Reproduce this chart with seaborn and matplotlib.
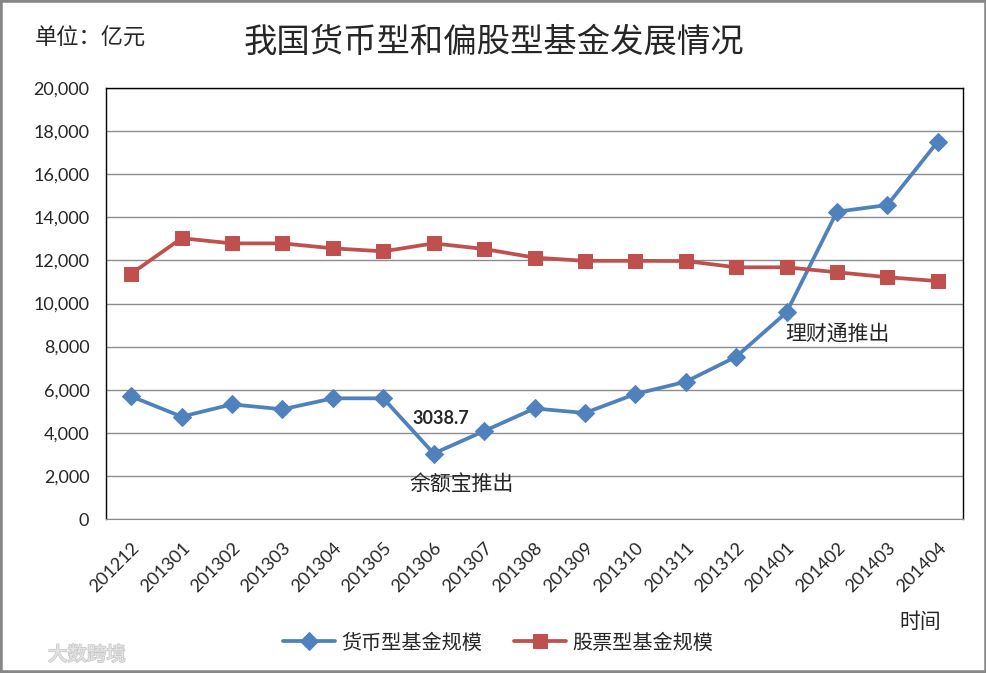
import pandas as pd
import seaborn as sns
import matplotlib.pyplot as plt
from matplotlib.patches import Rectangle
from matplotlib.ticker import FuncFormatter
import matplotlib.patheffects as pe

# data (unit: 亿元)
months = ['201212', '201301', '201302', '201303', '201304', '201305', '201306',
          '201307', '201308', '201309', '201310', '201311', '201312', '201401',
          '201402', '201403', '201404']
money_fund = [5690, 4750, 5320, 5090, 5600, 5600, 3038.7, 4080, 5130, 4920,
              5800, 6370, 7530, 9590, 14260, 14570, 17510]
stock_fund = [11380, 13030, 12790, 12790, 12560, 12420, 12790, 12530, 12130,
              11980, 11980, 11970, 11680, 11680, 11450, 11220, 11040]
series_names = ['货币型基金规模', '股票型基金规模']

sns.set_style('white')
plt.rcParams['font.family'] = ['Noto Sans CJK SC', 'DejaVu Sans']

blue = '#4F81BD'
red = '#C0504D'

df = pd.DataFrame({'month': months, 'money': money_fund, 'stock': stock_fund})

fig = plt.figure(figsize=(9.87, 6.73), dpi=100)
ax = fig.add_axes([106 / 987, 1 - 519 / 673, (963 - 106) / 987, (519 - 88) / 673])

sns.lineplot(data=df, x='month', y='money', ax=ax, color=blue, linewidth=2.7,
             marker='D', markersize=9, markeredgecolor=blue, label=series_names[0])
sns.lineplot(data=df, x='month', y='stock', ax=ax, color=red, linewidth=2.7,
             marker='s', markersize=10.5, markeredgecolor=red, label=series_names[1])

ax.set_xlim(-0.5, len(months) - 0.5)
ax.set_ylim(0, 20000)
ax.set_yticks(range(0, 20001, 2000))
ax.yaxis.set_major_formatter(FuncFormatter(lambda v, p: f'{int(v):,}'))
ax.grid(axis='y', color='#8c8c8c', linewidth=1.0)
ax.grid(axis='x', visible=False)
ax.set_axisbelow(True)
for side in ['left', 'top', 'right']:
    ax.spines[side].set_color('black')
    ax.spines[side].set_linewidth(1.0)
ax.spines['bottom'].set_color('#8c8c8c')
ax.set_xlabel('')
ax.set_ylabel('')
ax.tick_params(axis='y', length=0, pad=12)

for lbl in ax.get_yticklabels():
    lbl.set_family('Lato')
    lbl.set_fontsize(13)
ax.set_xticks(range(len(months)))
ax.set_xticklabels(months, rotation=45, ha='right', va='top',
                   rotation_mode='anchor', family='Lato', fontsize=13)
ax.tick_params(axis='x', length=0, pad=15)

# annotations
ax.text(6.15, 4650, '3038.7', fontsize=13, fontweight='bold', family='Lato',
        ha='center', va='center')
ax.text(6.55, 1580, '余额宝推出', fontsize=15, ha='center', va='center')
ax.text(14.0, 8600, '理财通推出', fontsize=15, ha='center', va='center')

leg = ax.legend(loc='center', bbox_to_anchor=(498 / 987, 1 - 643 / 673),
                bbox_transform=fig.transFigure, ncol=2, frameon=False,
                fontsize=14.5, handlelength=2.6, columnspacing=1.6, handletextpad=0.3)

# titles and texts outside the plot
fig.text(494 / 987, 1 - 42 / 673, '我国货币型和偏股型基金发展情况',
         fontsize=24, ha='center', va='center')
fig.text(35 / 987, 1 - 38 / 673, '单位：亿元', fontsize=16, ha='left', va='center')
fig.text(920 / 987, 1 - 622 / 673, '时间', fontsize=15, ha='center', va='center')

# faint watermark
fig.text(48 / 987, 1 - 655 / 673, '大数跨境', fontsize=14, color='#e6e6e6',
         ha='left', va='center',
         path_effects=[pe.withStroke(linewidth=1.2, foreground='#c8c8c8')])

fig.patches.append(Rectangle((0, 0), 1, 1, transform=fig.transFigure, fill=False,
                             edgecolor='#878787', linewidth=4))

fig.savefig('out.png', dpi=100)
